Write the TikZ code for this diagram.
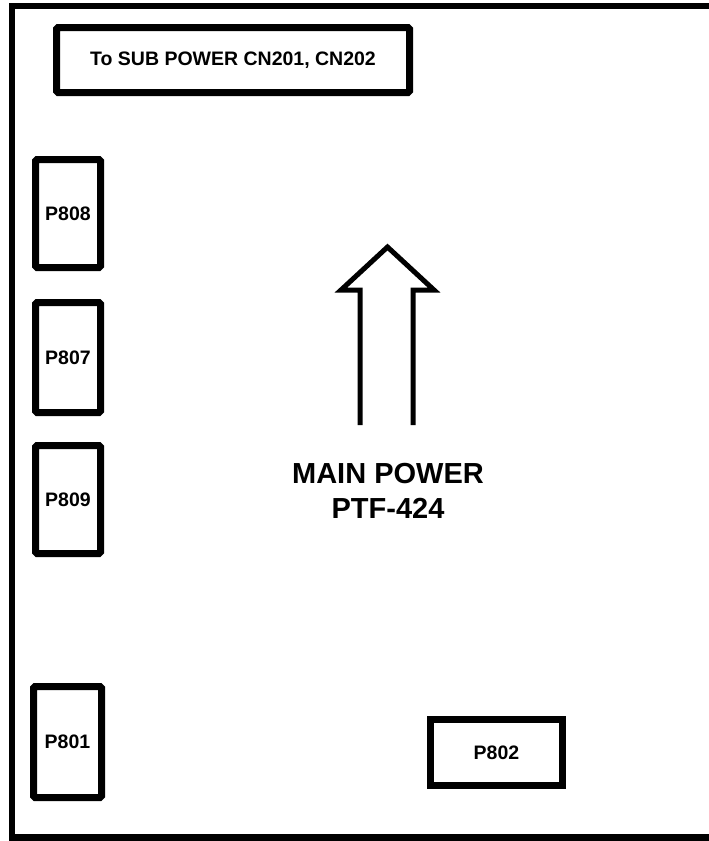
\documentclass[tikz,border=0pt]{standalone}
\usepackage{fontspec}
\setmainfont{Liberation Sans}
\begin{document}
\begin{tikzpicture}[x=1pt,y=-1pt,
  conn/.style={draw=black,line width=7pt,rounded corners=1.5pt,inner sep=0pt,
    font=\fontsize{19.5}{23}\selectfont\bfseries},
  frame/.style={line width=6.5pt},
  bigarrow/.style={line width=5pt,miter limit=10}]
\useasboundingbox (0,0) rectangle (709,841);
\fill[white] (0,0) rectangle (709,841);
% outer board outline (right side runs off the picture)
\draw[frame] (720,6) -- (12,6) -- (12,837.5) -- (720,837.5);
% header connector
\node[conn,minimum width=353pt,minimum height=65pt] (sub) at (233,60) {To SUB POWER CN201, CN202};
% left connectors
\node[conn,minimum width=65pt,minimum height=108pt] (p808) at (68,213.5) {P808};
\node[conn,minimum width=65pt,minimum height=110pt] (p807) at (68,357.5) {P807};
\node[conn,minimum width=65pt,minimum height=108pt] (p809) at (68,499.5) {P809};
\node[conn,minimum width=68pt,minimum height=111pt] (p801) at (67.5,742) {P801};
% bottom connector
\node[conn,minimum width=132pt,minimum height=66pt,rounded corners=0pt] (p802) at (496.5,752.5) {P802};
% big hollow arrow
\coordinate (aL) at (360,425);
\coordinate (aR) at (413,425);
\coordinate (tip) at (387.5,247);
\draw[bigarrow] (aL) -- (360,290) -- (341,290) -- (tip) -- (434,290) -- (413,290) -- (aR);
% label
\node[font=\fontsize{29}{35}\selectfont\bfseries,align=center,anchor=base] (main) at (388,518) {MAIN POWER\\PTF-424};
\end{tikzpicture}
\end{document}
